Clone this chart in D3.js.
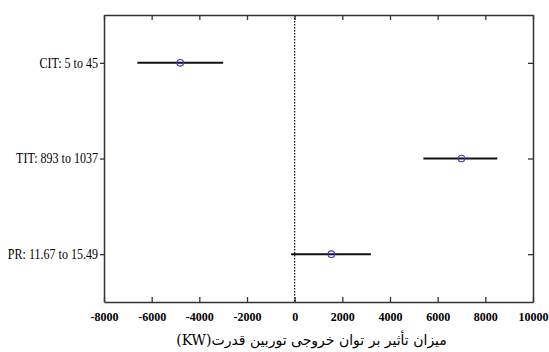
<!DOCTYPE html>
<html>
<head>
<meta charset="utf-8">
<script src="https://cdn.jsdelivr.net/npm/d3@7"></script>
<style>
  body { margin: 0; background: #fff; }
  svg { display: block; }
</style>
</head>
<body>
<svg id="chart" width="549" height="352"></svg>
<script>
// values
const labels = ["CIT: 5 to 45", "TIT: 893 to 1037", "PR: 11.67 to 15.49"];
const lows = [-6600, 5400, -150];
const highs = [-3000, 8500, 3200];
const centers = [-4800, 7000, 1540];
const xTicks = [-8000, -6000, -4000, -2000, 0, 2000, 4000, 6000, 8000, 10000];
const xTitle = "میزان تأثیر بر توان خروجی توربین قدرت(KW)";

const width = 549, height = 352;
const margin = { top: 15, right: 16, bottom: 50, left: 104 };
const innerW = width - margin.left - margin.right;
const innerH = height - margin.top - margin.bottom;
const serif = "Liberation Serif, Times New Roman, serif";

const svg = d3.select('#chart');
const g = svg.append('g').attr('transform', 'translate(' + margin.left + ',' + margin.top + ')');

const x = d3.scaleLinear().domain([-8000, 10000]).range([0, innerW]);
// categories sit at 1..3 with half a unit of padding, top to bottom
const y = d3.scaleLinear().domain([0.5, 3.5]).range([0, innerH]);
const yPos = (i) => y(i + 1);

const axisColor = "#333";

// dotted zero line
g.append('line')
  .attr('x1', x(0)).attr('x2', x(0))
  .attr('y1', 0).attr('y2', innerH)
  .attr('stroke', '#000')
  .attr('stroke-width', 1.2)
  .attr('stroke-dasharray', '1.5,1.5');

// bottom axis, ticks inward
const xAxis = g.append('g')
  .attr('transform', 'translate(0,' + innerH + ')')
  .call(d3.axisBottom(x).tickValues(xTicks).tickSizeInner(-5).tickSizeOuter(0).tickPadding(10)
    .tickFormat((d) => String(d)));
xAxis.attr('font-family', serif).attr('font-size', 12).attr('font-weight', 'bold');
xAxis.selectAll('text').attr('fill', '#000');

// top axis (mirror ticks)
g.append('g')
  .call(d3.axisTop(x).tickValues(xTicks).tickSizeInner(-5).tickSizeOuter(0).tickFormat(''));

// left axis, labels (the original text is a bit squeezed horizontally)
const yAxis = g.append('g')
  .call(d3.axisLeft(y).tickValues([1, 2, 3]).tickSizeInner(4).tickSizeOuter(0).tickPadding(3)
    .tickFormat((d) => labels[d - 1]));
yAxis.attr('font-family', serif).attr('font-size', 14);
yAxis.selectAll('text').attr('fill', '#000').attr('transform', 'scale(0.86,1)');

// right axis (mirror ticks)
g.append('g')
  .attr('transform', 'translate(' + innerW + ',0)')
  .call(d3.axisRight(y).tickValues([1, 2, 3]).tickSizeInner(-5).tickSizeOuter(0).tickFormat(''));

g.selectAll('.domain').attr('stroke', axisColor).attr('stroke-width', 1.5);
g.selectAll('.tick line').attr('stroke', axisColor).attr('stroke-width', 1.3);

// error bars
g.selectAll('.bar')
  .data(labels)
  .enter().append('line')
  .attr('class', 'bar')
  .attr('x1', (d, i) => x(lows[i]))
  .attr('x2', (d, i) => x(highs[i]))
  .attr('y1', (d, i) => yPos(i))
  .attr('y2', (d, i) => yPos(i))
  .attr('stroke', '#111')
  .attr('stroke-width', 2);

// center markers
g.selectAll('.dot')
  .data(labels)
  .enter().append('circle')
  .attr('class', 'dot')
  .attr('cx', (d, i) => x(centers[i]))
  .attr('cy', (d, i) => yPos(i))
  .attr('r', 3.3)
  .attr('fill', 'none')
  .attr('stroke', '#3b3bd0')
  .attr('stroke-width', 1.1);

// x axis title
svg.append('text')
  .attr('x', margin.left + innerW / 2 - 7)
  .attr('y', height - 7)
  .attr('text-anchor', 'middle')
  .attr('direction', 'rtl')
  .attr('font-family', 'DejaVu Serif, DejaVu Sans, serif')
  .attr('font-size', 14)
  .attr('fill', '#000')
  .text(xTitle);
</script>
</body>
</html>
